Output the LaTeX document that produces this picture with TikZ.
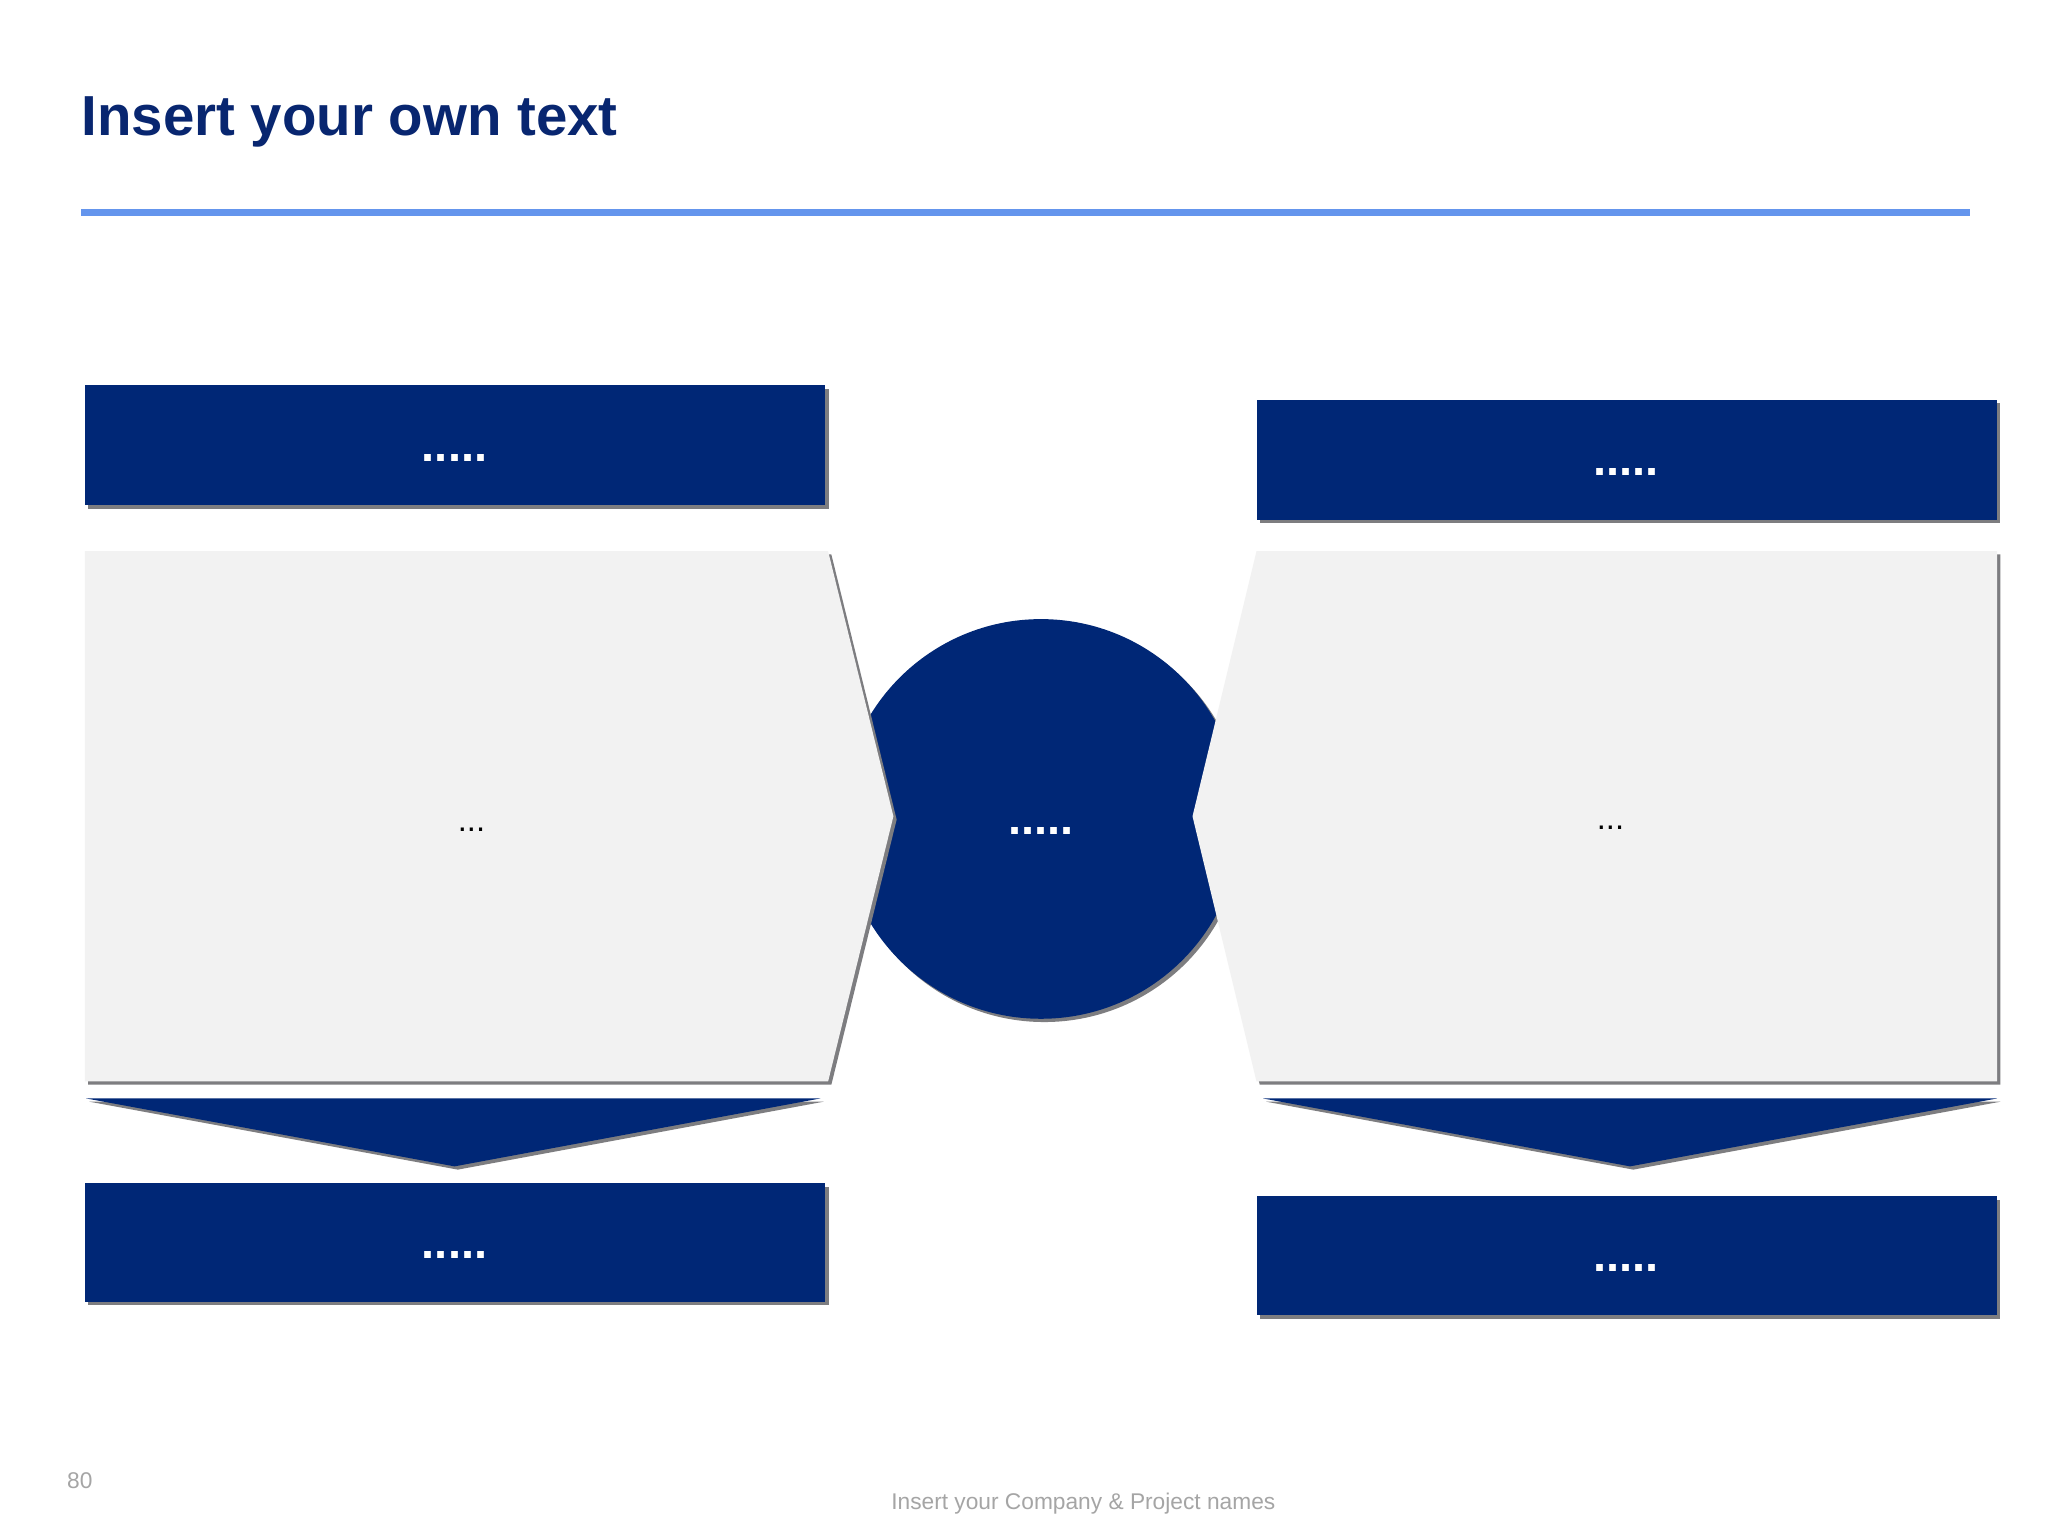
\documentclass[tikz,border=0pt]{standalone}
\usepackage{fontspec}
\setmainfont{Liberation Sans}
\definecolor{navy}{RGB}{0,39,118}
\definecolor{titlenavy}{RGB}{8,38,112}
\definecolor{rulecol}{RGB}{100,149,237}
\definecolor{panel}{RGB}{242,242,242}
\definecolor{shade}{RGB}{125,125,128}
\definecolor{foot}{RGB}{165,165,165}
\tikzset{
  navyfill/.style={fill=navy},
  shadowfill/.style={fill=shade},
  panelfill/.style={fill=panel},
  whitedots/.style={text=white, font=\bfseries\fontsize{18}{18}\selectfont, inner sep=0pt},
  blackdots/.style={text=black, font=\fontsize{12.5}{12.5}\selectfont, inner sep=0pt},
}
\begin{document}
\begin{tikzpicture}[x=0.5pt,y=-0.5pt]
\useasboundingbox[fill=white] (0,0) rectangle (1568,1176);

% title and rule
\node[anchor=base west, inner sep=0pt, text=titlenavy, font=\bfseries\fontsize{21.6}{21.6}\selectfont] (title) at (62,104) {Insert your own text};
\fill[rulecol] (62,160) rectangle (1508,165);

% central circle
\fill[shadowfill] (799.5,629.5) circle[radius=153];
\fill[navyfill] (797,627) circle[radius=153];

% left panel
\fill[shadowfill] (67.5,424.5) -- (636.5,424.5) -- (686.5,627.5) -- (636.5,830.5) -- (67.5,830.5) -- cycle;
\fill[panelfill] (65,422) -- (634,422) -- (684,625) -- (634,828) -- (65,828) -- cycle;
% right panel
\fill[shadowfill] (964.5,424.5) -- (1531.5,424.5) -- (1531.5,830.5) -- (964.5,830.5) -- (915.5,627.5) -- cycle;
\fill[panelfill] (962,422) -- (1529,422) -- (1529,828) -- (962,828) -- (913,625) -- cycle;

% top boxes
\fill[shadowfill] (67.5,297.5) rectangle (634.5,389.5);
\fill[navyfill] (65,295) rectangle (632,387);
\fill[shadowfill] (964.5,308.5) rectangle (1531.5,400.5);
\fill[navyfill] (962,306) rectangle (1529,398);

% down arrows
\fill[shadowfill] (68.5,843.5) -- (630.5,843.5) -- (350.5,895.5) -- cycle;
\fill[navyfill] (66,841) -- (628,841) -- (348,893) -- cycle;
\fill[shadowfill] (969.5,843.5) -- (1531.5,843.5) -- (1250.5,895.5) -- cycle;
\fill[navyfill] (967,841) -- (1529,841) -- (1248,893) -- cycle;

% bottom boxes
\fill[shadowfill] (67.5,908.5) rectangle (634.5,999.5);
\fill[navyfill] (65,906) rectangle (632,997);
\fill[shadowfill] (964.5,918.5) rectangle (1531.5,1009.5);
\fill[navyfill] (962,916) rectangle (1529,1007);

% texts
\node[whitedots] (tl) at (348,351) {.....};
\node[whitedots] (tr) at (1245,361) {.....};
\node[whitedots] (mid) at (797,636) {.....};
\node[whitedots] (bl) at (348,961) {.....};
\node[whitedots] (br) at (1245,971) {.....};
\node[blackdots] (lp) at (361,635) {...};
\node[blackdots] (rp) at (1233,634) {...};

% footer
\node[anchor=base west, inner sep=0pt, text=foot, font=\fontsize{8.7}{8.7}\selectfont] (page) at (51,1140) {80};
\node[anchor=base west, inner sep=0pt, text=foot, font=\fontsize{8.7}{8.7}\selectfont] (footer) at (682,1156) {Insert your Company \& Project names};
\end{tikzpicture}
\end{document}
